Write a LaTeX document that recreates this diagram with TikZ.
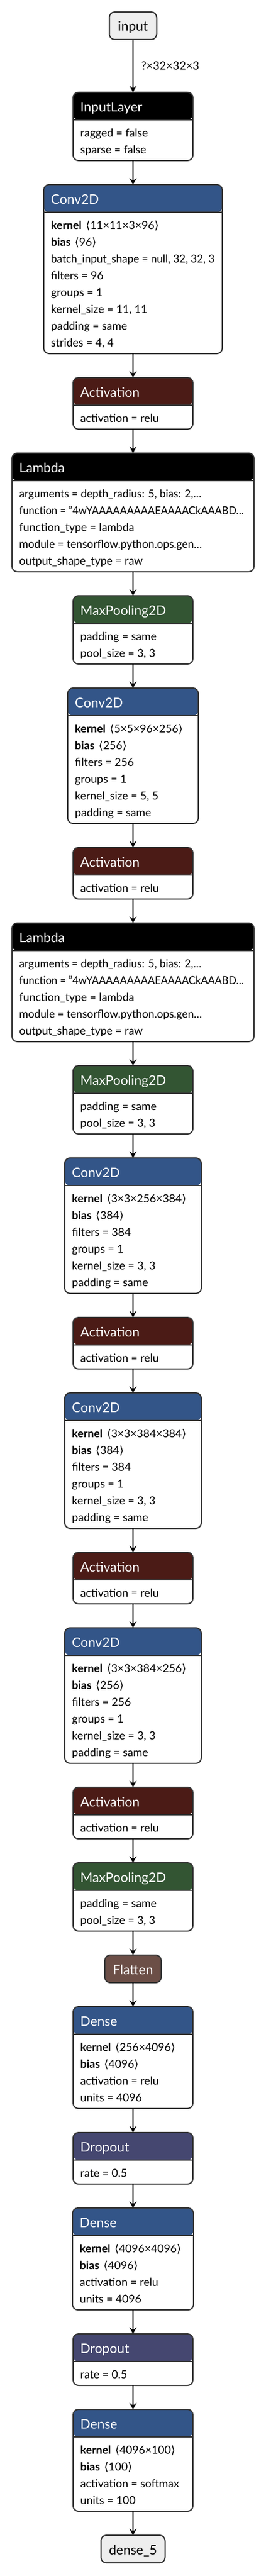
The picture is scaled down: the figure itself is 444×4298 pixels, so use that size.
\documentclass[tikz,border=0pt]{standalone}
\usepackage{fontspec}
\usepackage{graphicx}
\setmainfont{Lato}
\newfontfamily\brkfont{DejaVu Sans}
\usetikzlibrary{calc,arrows.meta}
\definecolor{cconv}{HTML}{335588}
\definecolor{cact}{HTML}{4B1B16}
\definecolor{cpool}{HTML}{335533}
\definecolor{cdrop}{HTML}{454770}
\definecolor{cflat}{HTML}{6C4F47}
\definecolor{cblack}{HTML}{000000}
\definecolor{cio}{HTML}{EEEEEE}
\definecolor{cborder}{HTML}{333333}
\newcommand\wtattr[2]{\textbf{#1}\hspace{7pt}{\brkfont ⟨}#2{\brkfont ⟩}}
\newsavebox\fitbox
\newcommand\fitw[2]{\sbox\fitbox{#2}\scalebox{\fpeval{min(1,#1pt/\wd\fitbox)}}[1]{\usebox\fitbox}}
\tikzset{
  box/.style={draw=cborder, line width=2pt, rounded corners=9pt, fill=white, inner sep=0pt, outer sep=0pt},
  ttl/.style={text=white, font=\fontsize{22}{26}\selectfont, inner sep=0pt, anchor=base west},
  attr/.style={font=\fontsize{18.5}{22}\selectfont, inner sep=0pt, anchor=base west, text=black},
  arr/.style={-{Stealth[length=11pt,width=12pt,inset=4.5pt]}, line width=1.8pt, draw=black},
  elabel/.style={font=\fontsize{19}{22}\selectfont, inner sep=0pt, text=black}
}
\newcommand\layerbox[7]{%
  \pgfmathsetmacro\boxh{58+28*#4}%
  \node[box, minimum width=#2pt, minimum height=\boxh pt, anchor=north,
    path picture={
      \fill[#5] (path picture bounding box.north west) rectangle ([yshift=-46pt]path picture bounding box.north east);
      \draw[cborder, line width=2pt] ([yshift=-46pt]path picture bounding box.north west) -- ([yshift=-46pt]path picture bounding box.north east);
    }] (#1) at (222,#3) {};
  \node[ttl] (#1-title) at ($(#1.north west)+(12,32)$) {#6};
  \foreach \txt [count=\i] in {#7} {
    \node[attr] (#1-\i) at ($(#1.north west)+(12,{74.5+28*(\i-1)})$) {\txt};
  }%
}
\newcommand\capbox[6]{%
  \node[box, fill=#4, minimum width=#2pt, minimum height=46pt, anchor=north] (#1) at (222,#3) {};
  \node[anchor=base, inner sep=0pt, text=#5, font=\fontsize{22}{26}\selectfont] (#1-title) at ($(#1.north)+(0,32)$) {#6};
}
\newcommand\lambdalines{{\fitw{304}{arguments = depth\_radius: 5, bias: 2,…}},{\fitw{375}{function = "4wYAAAAAAAAAEAAAACkAAABD…}},{function\_type = lambda},{\fitw{305}{module = tensorflow.python.ops.gen…}},{output\_shape\_type = raw}}
\begin{document}
\begin{tikzpicture}[x=1pt,y=-1pt]
\useasboundingbox (0,0) rectangle (444,4298);
\capbox{in}{79}{20}{cio}{black}{input}
\layerbox{il}{200}{154}{2}{cblack}{InputLayer}{{ragged = false},{sparse = false}}
\layerbox{c1}{298}{308}{8}{cconv}{Conv2D}{{\wtattr{kernel}{11×11×3×96}},{\wtattr{bias}{96}},{\fitw{273}{batch\_input\_shape = null, 32, 32, 3}},{filters = 96},{groups = 1},{kernel\_size = 11, 11},{padding = same},{strides = 4, 4}}
\layerbox{a1}{200}{630}{1}{cact}{Activation}{{activation = relu}}
\layerbox{l1}{404}{756}{5}{cblack}{Lambda}{{\fitw{304}{arguments = depth\_radius: 5, bias: 2,…}},{\fitw{375}{function = "4wYAAAAAAAAAEAAAACkAAABD…}},{function\_type = lambda},{\fitw{305}{module = tensorflow.python.ops.gen…}},{output\_shape\_type = raw}}
\layerbox{m1}{200}{994}{2}{cpool}{MaxPooling2D}{{padding = same},{pool\_size = 3, 3}}
\layerbox{c2}{218}{1148}{6}{cconv}{Conv2D}{{\wtattr{kernel}{5×5×96×256}},{\wtattr{bias}{256}},{filters = 256},{groups = 1},{kernel\_size = 5, 5},{padding = same}}
\layerbox{a2}{200}{1414}{1}{cact}{Activation}{{activation = relu}}
\layerbox{l2}{404}{1540}{5}{cblack}{Lambda}{{\fitw{304}{arguments = depth\_radius: 5, bias: 2,…}},{\fitw{375}{function = "4wYAAAAAAAAAEAAAACkAAABD…}},{function\_type = lambda},{\fitw{305}{module = tensorflow.python.ops.gen…}},{output\_shape\_type = raw}}
\layerbox{m2}{200}{1778}{2}{cpool}{MaxPooling2D}{{padding = same},{pool\_size = 3, 3}}
\layerbox{c3}{228}{1932}{6}{cconv}{Conv2D}{{\wtattr{kernel}{3×3×256×384}},{\wtattr{bias}{384}},{filters = 384},{groups = 1},{kernel\_size = 3, 3},{padding = same}}
\layerbox{a3}{200}{2198}{1}{cact}{Activation}{{activation = relu}}
\layerbox{c4}{228}{2324}{6}{cconv}{Conv2D}{{\wtattr{kernel}{3×3×384×384}},{\wtattr{bias}{384}},{filters = 384},{groups = 1},{kernel\_size = 3, 3},{padding = same}}
\layerbox{a4}{200}{2590}{1}{cact}{Activation}{{activation = relu}}
\layerbox{c5}{228}{2716}{6}{cconv}{Conv2D}{{\wtattr{kernel}{3×3×384×256}},{\wtattr{bias}{256}},{filters = 256},{groups = 1},{kernel\_size = 3, 3},{padding = same}}
\layerbox{a5}{200}{2982}{1}{cact}{Activation}{{activation = relu}}
\layerbox{m3}{200}{3108}{2}{cpool}{MaxPooling2D}{{padding = same},{pool\_size = 3, 3}}
\capbox{fl}{94}{3262}{cflat}{white}{Flatten}
\layerbox{d1}{200}{3348}{4}{cconv}{Dense}{{\wtattr{kernel}{256×4096}},{\wtattr{bias}{4096}},{activation = relu},{units = 4096}}
\layerbox{r1}{200}{3558}{1}{cdrop}{Dropout}{{rate = 0.5}}
\layerbox{d2}{202}{3684}{4}{cconv}{Dense}{{\wtattr{kernel}{4096×4096}},{\wtattr{bias}{4096}},{activation = relu},{units = 4096}}
\layerbox{r2}{200}{3894}{1}{cdrop}{Dropout}{{rate = 0.5}}
\layerbox{d3}{200}{4020}{4}{cconv}{Dense}{{\wtattr{kernel}{4096×100}},{\wtattr{bias}{100}},{activation = softmax},{units = 100}}
\capbox{out}{107}{4230}{cio}{black}{dense\_5}
\draw[arr] (in.south) -- node[elabel, anchor=west, xshift=13pt] (shape) {?×32×32×3} (il.north);
\foreach \a/\b in {il/c1,c1/a1,a1/l1,l1/m1,m1/c2,c2/a2,a2/l2,l2/m2,m2/c3,c3/a3,a3/c4,c4/a4,a4/c5,c5/a5,a5/m3,m3/fl,fl/d1,d1/r1,r1/d2,d2/r2,r2/d3,d3/out}
  \draw[arr] (\a.south) -- (\b.north);
\end{tikzpicture}
\end{document}
